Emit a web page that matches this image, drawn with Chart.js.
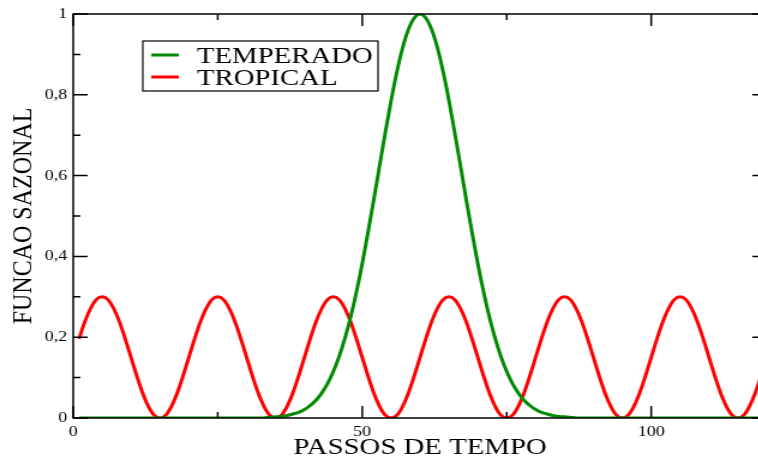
<!DOCTYPE html>
<html>
<head>
<meta charset="utf-8">
<script src="https://cdn.jsdelivr.net/npm/chart.js@4/dist/chart.umd.min.js"></script>
<style>
    html, body { margin: 0; padding: 0; background: #fff; overflow: hidden; }
    #wrap { width: 640px; height: 464px; transform: scaleX(1.2); transform-origin: 0 0; }
</style>
</head>
<body>
<div id="wrap"><canvas id="sazonal" width="640" height="464"></canvas></div>
<script>
const passos = [
    1, 2, 3, 4, 5, 6, 7, 8, 9, 10, 11, 12, 13, 14, 15, 16, 17, 18, 19, 20,
    21, 22, 23, 24, 25, 26, 27, 28, 29, 30, 31, 32, 33, 34, 35, 36, 37, 38, 39, 40,
    41, 42, 43, 44, 45, 46, 47, 48, 49, 50, 51, 52, 53, 54, 55, 56, 57, 58, 59, 60,
    61, 62, 63, 64, 65, 66, 67, 68, 69, 70, 71, 72, 73, 74, 75, 76, 77, 78, 79, 80,
    81, 82, 83, 84, 85, 86, 87, 88, 89, 90, 91, 92, 93, 94, 95, 96, 97, 98, 99, 100,
    101, 102, 103, 104, 105, 106, 107, 108, 109, 110, 111, 112, 113, 114, 115, 116, 117, 118, 119, 120
];

const temperado = [
    0, 0, 0, 0, 0, 0, 0, 0, 0, 0, 0, 0, 0, 0, 0, 0, 0, 0, 0, 0,
    0, 0, 0, 0, 0, 0, 0, 0, 0, 0, 0, 0, 0, 0.002, 0.003, 0.004, 0.006, 0.010, 0.014, 0.021,
    0.031, 0.044, 0.062, 0.085, 0.115, 0.152, 0.197, 0.250, 0.312, 0.382, 0.459, 0.540, 0.624, 0.707, 0.786, 0.857, 0.917, 0.962, 0.990, 1.000,
    0.990, 0.962, 0.917, 0.857, 0.786, 0.707, 0.624, 0.540, 0.459, 0.382, 0.312, 0.250, 0.197, 0.152, 0.115, 0.085, 0.062, 0.044, 0.031, 0.021,
    0.014, 0.010, 0.006, 0.004, 0.003, 0.002, 0, 0, 0, 0, 0, 0, 0, 0, 0, 0, 0, 0, 0, 0,
    0, 0, 0, 0, 0, 0, 0, 0, 0, 0, 0, 0, 0, 0, 0, 0, 0, 0, 0, 0
];

const tropical = [
    0.196, 0.238, 0.271, 0.293, 0.300, 0.293, 0.271, 0.238, 0.196, 0.150, 0.104, 0.062, 0.029, 0.007, 0.000, 0.007, 0.029, 0.062, 0.104, 0.150,
    0.196, 0.238, 0.271, 0.293, 0.300, 0.293, 0.271, 0.238, 0.196, 0.150, 0.104, 0.062, 0.029, 0.007, 0.000, 0.007, 0.029, 0.062, 0.104, 0.150,
    0.196, 0.238, 0.271, 0.293, 0.300, 0.293, 0.271, 0.238, 0.196, 0.150, 0.104, 0.062, 0.029, 0.007, 0.000, 0.007, 0.029, 0.062, 0.104, 0.150,
    0.196, 0.238, 0.271, 0.293, 0.300, 0.293, 0.271, 0.238, 0.196, 0.150, 0.104, 0.062, 0.029, 0.007, 0.000, 0.007, 0.029, 0.062, 0.104, 0.150,
    0.196, 0.238, 0.271, 0.293, 0.300, 0.293, 0.271, 0.238, 0.196, 0.150, 0.104, 0.062, 0.029, 0.007, 0.000, 0.007, 0.029, 0.062, 0.104, 0.150,
    0.196, 0.238, 0.271, 0.293, 0.300, 0.293, 0.271, 0.238, 0.196, 0.150, 0.104, 0.062, 0.029, 0.007, 0.000, 0.007, 0.029, 0.062, 0.104, 0.150
];

const xTicks = [0, 50, 100];
const xMinor = [25, 75];
const yTicks = [0, 0.2, 0.4, 0.6, 0.8, 1];
const yMinor = [0.1, 0.3, 0.5, 0.7, 0.9];

const serif = 'Liberation Serif';

// frame with inward ticks on all four sides, plus the boxed legend
const framePlugin = {
    id: 'frame',
    afterDatasetsDraw(chart) {
        const { ctx, chartArea: a, scales } = chart;
        const x = scales.x, y = scales.y;
        ctx.save();
        ctx.strokeStyle = '#000';
        ctx.lineWidth = 1.5;
        ctx.strokeRect(a.left, a.top, a.right - a.left, a.bottom - a.top);

        ctx.beginPath();
        const tickX = (v, len) => {
            const px = x.getPixelForValue(v);
            ctx.moveTo(px, a.bottom); ctx.lineTo(px, a.bottom - len);
            ctx.moveTo(px, a.top); ctx.lineTo(px, a.top + len);
        };
        const tickY = (v, len) => {
            const py = y.getPixelForValue(v);
            ctx.moveTo(a.left, py); ctx.lineTo(a.left + len, py);
            ctx.moveTo(a.right, py); ctx.lineTo(a.right - len, py);
        };
        xTicks.forEach(v => tickX(v, 12));
        xMinor.forEach(v => tickX(v, 6));
        yTicks.forEach(v => tickY(v, 12));
        yMinor.forEach(v => tickY(v, 6));
        ctx.stroke();

        // legend
        ctx.lineWidth = 1.2;
        ctx.strokeRect(119, 41, 196, 50);
        ctx.font = `24px "${serif}"`;
        ctx.textBaseline = 'alphabetic';
        ctx.fillStyle = '#000';
        chart.data.datasets.forEach((ds, i) => {
            const ly = 55 + i * 22;
            ctx.strokeStyle = ds.borderColor;
            ctx.lineWidth = 3;
            ctx.beginPath();
            ctx.moveTo(126, ly);
            ctx.lineTo(149, ly);
            ctx.stroke();
            ctx.fillText(ds.label, 164, ly + 8);
        });
        ctx.restore();
    }
};

const ctx = document.getElementById('sazonal').getContext('2d');
new Chart(ctx, {
    type: 'line',
    data: {
        labels: passos,
        datasets: [
            {
                label: 'TEMPERADO',
                data: temperado,
                borderColor: 'rgb(0, 139, 0)',
                borderWidth: 3,
                pointRadius: 0,
                cubicInterpolationMode: 'monotone'
            },
            {
                label: 'TROPICAL',
                data: tropical,
                borderColor: 'rgb(255, 0, 0)',
                borderWidth: 3,
                pointRadius: 0,
                cubicInterpolationMode: 'monotone'
            }
        ]
    },
    options: {
        responsive: false,
        animation: false,
        layout: { padding: { top: 12, right: 1, left: 0, bottom: 0 } },
        plugins: {
            legend: { display: false },
            tooltip: { enabled: false }
        },
        scales: {
            x: {
                type: 'linear',
                min: 0,
                max: 120,
                grid: { display: false, drawTicks: false },
                border: { display: false },
                afterBuildTicks: s => { s.ticks = xTicks.map(v => ({ value: v })); },
                afterFit: s => { s.height = 46; },
                ticks: {
                    padding: 5,
                    maxRotation: 0,
                    color: '#000',
                    font: { family: serif, size: 15 }
                },
                title: {
                    display: true,
                    text: 'PASSOS DE TEMPO',
                    color: '#000',
                    font: { family: serif, size: 24, lineHeight: 1 },
                    padding: { top: 0, bottom: 4 }
                }
            },
            y: {
                min: 0,
                max: 1,
                grid: { display: false, drawTicks: false },
                border: { display: false },
                afterBuildTicks: s => { s.ticks = yTicks.map(v => ({ value: v })); },
                afterFit: s => { s.width = 61; },
                ticks: {
                    padding: 5,
                    color: '#000',
                    font: { family: serif, size: 15 },
                    callback: v => String(Math.round(v * 10) / 10).replace('.', ',')
                },
                title: {
                    display: true,
                    text: 'FUNCAO SAZONAL',
                    color: '#000',
                    font: { family: serif, size: 24, lineHeight: 1 },
                    padding: { top: 8, bottom: 0 }
                }
            }
        }
    },
    plugins: [framePlugin]
});
</script>
</body>
</html>
